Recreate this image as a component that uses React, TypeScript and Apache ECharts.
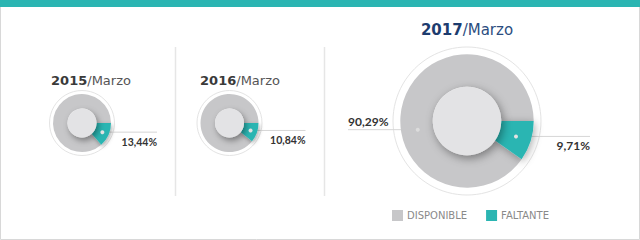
import React, { useEffect, useRef } from "react";
import * as echarts from "echarts";

const categories = ["DISPONIBLE", "FALTANTE"];
const years = ["2015", "2016", "2017"];
const month = "Marzo";
const disponible = [86.56, 89.16, 90.29];
const faltante = [13.44, 10.84, 9.71];

const TEAL = "#2bb5b2";
const GREY = "#c7c7c9";
const INNER = "#e3e3e5";

type Layout = {
  cx: number; cy: number; rOuter: number; rPie: number; rIn: number;
  titleX: number; titleY: number; titleSize: number; labelSize: number;
  rightEnd: number; leftEnd: number; showGrey: boolean; greyDotAngle: number;
  boldColor: string; normalColor: string; rightDy: number; leftDy: number; blur: number;
};

const layouts: Layout[] = [
  { cx: 82, cy: 123, rOuter: 32.5, rPie: 29, rIn: 14.5, titleX: 91, titleY: 80, titleSize: 13, labelSize: 10.5,
    rightEnd: 75, leftEnd: 0, showGrey: false, greyDotAngle: 170, boldColor: "#3a3a3a", normalColor: "#555555", rightDy: 10, leftDy: -8, blur: 4 },
  { cx: 229.5, cy: 123, rOuter: 32.5, rPie: 29, rIn: 14.5, titleX: 240, titleY: 80, titleSize: 13, labelSize: 10.5,
    rightEnd: 76, leftEnd: 0, showGrey: false, greyDotAngle: 170, boldColor: "#3a3a3a", normalColor: "#555555", rightDy: 10, leftDy: -8, blur: 4 },
  { cx: 467, cy: 121, rOuter: 74, rPie: 66.7, rIn: 34.2, titleX: 467, titleY: 30, titleSize: 15, labelSize: 12,
    rightEnd: 123, leftEnd: 119, showGrey: true, greyDotAngle: 170, boldColor: "#1d3c6e", normalColor: "#2c4d80", rightDy: 9, leftDy: -8, blur: 8 },
];

const fmt = (v: number) => v.toFixed(2).replace(".", ",") + "%";

export default function App() {
  const ref = useRef<HTMLDivElement>(null);
  useEffect(() => {
    if (!ref.current) return;
    const chart = echarts.init(ref.current, null, { renderer: "svg" });
    const series: any[] = [];
    const graphics: any[] = [
      { type: "rect", shape: { x: 0.5, y: 6.5, width: 639, height: 233 }, style: { fill: "#fff", stroke: "#d8d8d8", lineWidth: 1 }, z: -10 },
      { type: "rect", shape: { x: 0, y: 0, width: 640, height: 7 }, style: { fill: TEAL }, z: 10 },
      { type: "line", shape: { x1: 175.5, y1: 47, x2: 175.5, y2: 196 }, style: { stroke: "#e6e6e6", lineWidth: 1.5 } },
      { type: "line", shape: { x1: 324.5, y1: 47, x2: 324.5, y2: 196 }, style: { stroke: "#e6e6e6", lineWidth: 1.5 } },
    ];

    years.forEach((yr, k) => {
      const L = layouts[k];
      const total = disponible[k] + faltante[k];
      const theta = (faltante[k] / total) * 360;
      const rd = 0.77 * L.rPie;
      const tMid = (theta / 2) * Math.PI / 180;
      const tDot = [L.cx + rd * Math.cos(tMid), L.cy + rd * Math.sin(tMid)];
      const gA = L.greyDotAngle * Math.PI / 180;
      const gDot = [L.cx + 0.75 * L.rPie * Math.cos(gA), L.cy + 0.75 * L.rPie * Math.sin(gA)];

      graphics.push({
        type: "text", x: L.titleX, y: L.titleY, z: 20,
        style: {
          text: `{b|${yr}}{r|/${month}}`, align: "center", verticalAlign: "middle",
          rich: {
            b: { fontFamily: "DejaVu Sans", fontWeight: "bold", fontSize: L.titleSize, fill: L.boldColor, color: L.boldColor },
            r: { fontFamily: "DejaVu Sans", fontWeight: "normal", fontSize: L.titleSize, fill: L.normalColor, color: L.normalColor },
          },
        },
      });

      series.push({
        type: "pie", name: "ring" + k, silent: true, center: [L.cx, L.cy], radius: [0, L.rOuter], z: 1,
        label: { show: false }, labelLine: { show: false }, emphasis: { disabled: true },
        data: [{ value: 1, name: "anillo" + k, itemStyle: { color: "#ffffff", borderColor: "#e4e4e4", borderWidth: 1 } }],
      });

      series.push({
        type: "pie", name: yr, silent: true, center: [L.cx, L.cy], radius: [L.rIn, L.rPie], z: 2,
        startAngle: -theta, clockwise: true, avoidLabelOverlap: false,
        emphasis: { disabled: true },
        label: {
          show: true, position: "outside", formatter: (p: any) => fmt(p.value),
          fontFamily: "Lato", fontWeight: "bold", fontSize: L.labelSize, color: "#333333",
        },
        labelLine: { show: true, lineStyle: { color: "#d6d6d6", width: 1 } },
        labelLayout: (p: any) => {
          if (p.dataIndex === 1) {
            const end = L.cx + L.rightEnd;
            return {
              x: end, y: tDot[1] + L.rightDy, align: "right", verticalAlign: "middle",
              labelLinePoints: [[tDot[0], tDot[1]], [end, tDot[1]], [end, tDot[1]]],
            };
          }
          const start = L.cx - L.leftEnd;
          return {
            x: start, y: gDot[1] + L.leftDy, align: "left", verticalAlign: "middle",
            labelLinePoints: [[gDot[0], gDot[1]], [start, gDot[1]], [start, gDot[1]]],
          };
        },
        data: [
          {
            value: disponible[k], name: categories[0],
            itemStyle: { color: GREY },
            label: { show: L.showGrey }, labelLine: { show: L.showGrey },
          },
          {
            value: faltante[k], name: categories[1],
            itemStyle: { color: TEAL, shadowBlur: L.blur, shadowColor: "rgba(0,0,0,0.35)", shadowOffsetX: 1, shadowOffsetY: 2 },
          },
        ],
      });

      series.push({
        type: "pie", name: "inner" + k, silent: true, center: [L.cx, L.cy], radius: [0, L.rIn], z: 3,
        label: { show: false }, labelLine: { show: false }, emphasis: { disabled: true },
        data: [{ value: 1, name: "centro" + k, itemStyle: { color: INNER, shadowBlur: L.blur + 2, shadowColor: "rgba(0,0,0,0.4)", shadowOffsetX: 2, shadowOffsetY: 3 } }],
      });

      graphics.push({ type: "circle", shape: { cx: tDot[0], cy: tDot[1], r: 2 }, style: { fill: "#e2e2e2" }, z: 30 });
      if (L.showGrey) {
        graphics.push({ type: "circle", shape: { cx: gDot[0], cy: gDot[1], r: 2 }, style: { fill: "#dcdcdc" }, z: 30 });
      }
    });

    chart.setOption({
      animation: false,
      legend: {
        data: categories, left: 387, top: 205, icon: "rect", itemWidth: 11, itemHeight: 11, itemGap: 19,
        selectedMode: false, textStyle: { fontFamily: "DejaVu Sans", fontSize: 10, color: "#8a8a8a", padding: [0, 0, 0, -1] },
      },
      graphic: graphics,
      series,
    });
    return () => chart.dispose();
  }, []);
  return <div ref={ref} style={{ position: "fixed", left: 0, top: 0, width: 640, height: 240, background: "#fff" }} />;
}
